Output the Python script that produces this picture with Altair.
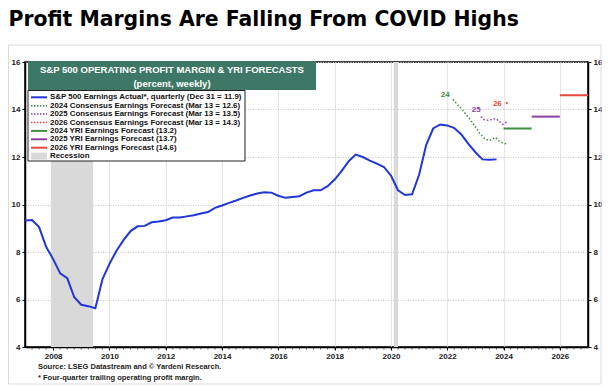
import altair as alt
import pandas as pd

# ---------------- data ----------------
act_years = [2007.00, 2007.25, 2007.50, 2007.75, 2008.00, 2008.25, 2008.50, 2008.75,
             2009.00, 2009.25, 2009.50, 2009.75, 2010.00, 2010.25, 2010.50, 2010.75,
             2011.00, 2011.25, 2011.50, 2011.75, 2012.00, 2012.25, 2012.50, 2012.75,
             2013.00, 2013.25, 2013.50, 2013.75, 2014.00, 2014.25, 2014.50, 2014.75,
             2015.00, 2015.25, 2015.50, 2015.75, 2016.00, 2016.25, 2016.50, 2016.75,
             2017.00, 2017.25, 2017.50, 2017.75, 2018.00, 2018.25, 2018.50, 2018.75,
             2019.00, 2019.25, 2019.50, 2019.75, 2020.00, 2020.25, 2020.50, 2020.75,
             2021.00, 2021.25, 2021.50, 2021.75, 2022.00, 2022.25, 2022.50, 2022.75,
             2023.00, 2023.25, 2023.50, 2023.75]
act_values = [9.33, 9.35, 9.05, 8.22, 7.70, 7.10, 6.90, 6.10,
              5.78, 5.72, 5.63, 6.85, 7.50, 8.05, 8.50, 8.88,
              9.08, 9.10, 9.25, 9.28, 9.34, 9.45, 9.45, 9.50,
              9.55, 9.62, 9.68, 9.86, 9.96, 10.07, 10.17, 10.28,
              10.38, 10.46, 10.52, 10.50, 10.37, 10.28, 10.32, 10.35,
              10.50, 10.60, 10.60, 10.77, 11.05, 11.42, 11.82, 12.10,
              12.00, 11.85, 11.72, 11.58, 11.22, 10.60, 10.40, 10.43,
              11.25, 12.50, 13.20, 13.37, 13.33, 13.22, 12.95, 12.55,
              12.20, 11.90, 11.88, 11.90]

c24_years = [2022.20, 2022.45, 2022.70, 2022.95, 2023.15, 2023.35, 2023.50, 2023.62,
             2023.72, 2023.85, 2024.00, 2024.12]
c24_values = [14.42, 14.10, 13.75, 13.35, 13.00, 12.75, 12.70, 12.76,
              12.82, 12.66, 12.58, 12.55]

c25_years = [2023.20, 2023.30, 2023.45, 2023.60, 2023.72, 2023.85, 2023.97, 2024.05, 2024.12]
c25_values = [13.70, 13.58, 13.55, 13.58, 13.62, 13.50, 13.38, 13.44, 13.48]

c26_years = [2024.11]
c26_values = [14.27]

yri_names = ["2024", "2025", "2026"]
yri_start = [2024.0, 2025.0, 2026.0]
yri_end = [2025.0, 2026.0, 2027.0]
yri_values = [13.2, 13.7, 14.6]

rec_start = [2007.92, 2020.10]
rec_end = [2009.42, 2020.25]

lab_text = ["24", "25", "26"]
lab_years = [2021.93, 2023.03, 2023.78]
lab_values = [14.63, 13.96, 14.25]

legend_labels = [
    "S&P 500 Earnings Actual*, quarterly (Dec 31 = 11.9)",
    "2024 Consensus Earnings Forecast (Mar 13 = 12.6)",
    "2025 Consensus Earnings Forecast (Mar 13 = 13.5)",
    "2026 Consensus Earnings Forecast (Mar 13 = 14.3)",
    "2024 YRI Earnings Forecast (13.2)",
    "2025 YRI Earnings Forecast (13.7)",
    "2026 YRI Earnings Forecast (14.6)",
    "Recession",
]
legend_kinds = ["solid", "dot", "dot", "dot", "solid", "solid", "solid", "box"]

x_ticks = list(range(2008, 2027, 2))
minor_ticks = [2007 + q / 4 for q in range(1, 80)]
y_ticks = [4, 6, 8, 10, 12, 14, 16]

title_text = "Profit Margins Are Falling From COVID Highs"
header_lines = ["S&P 500 OPERATING PROFIT MARGIN & YRI FORECASTS", "(percent, weekly)"]
source_lines = ["Source: LSEG Datastream and \u00a9 Yardeni Research.",
                "* Four-quarter trailing operating profit margin."]

# ---------------- style ----------------
BLUE = "#2236d6"
GREEN = "#3e8f3e"
PURPLE = "#8e3fa6"
RED = "#e8473b"
REC = "#d9d9d9"
HEAD = "#3d7866"
FONT = "Liberation Sans"
legend_colors = [BLUE, GREEN, PURPLE, RED, GREEN, PURPLE, RED, REC]
lab_colors = [GREEN, PURPLE, RED]

W, H = 563, 285
one = pd.DataFrame({"a": [0]})

xs = alt.Scale(domain=[2007, 2027], nice=False, zero=False)
ys = alt.Scale(domain=[4, 16], nice=False, zero=False)

x_axis = alt.Axis(values=x_ticks, format="d", title=None, labelFont=FONT, labelFontSize=8,
                  labelFontWeight="bold", labelColor="#222", tickColor="black", tickSize=3,
                  domainColor="black", domainWidth=1.5, grid=True, gridColor="#e4e4e4",
                  labelPadding=2)
yl_axis = alt.Axis(values=y_ticks, title=None, orient="left", labelFont=FONT, labelFontSize=8,
                   labelFontWeight="bold", labelColor="#222", tickColor="black", tickSize=3,
                   domainColor="black", domainWidth=1.5, grid=True, gridColor="#c8c8c8",
                   gridDash=[1, 1.5], labelPadding=2)
yr_axis = alt.Axis(values=y_ticks, title=None, orient="right", labelFont=FONT, labelFontSize=8,
                   labelFontWeight="bold", labelColor="#222", tickColor="black", tickSize=3,
                   domainColor="black", domainWidth=1.5, grid=False, labelPadding=2)

X = lambda f: alt.X(f, scale=xs, axis=x_axis)

# ---------------- layers ----------------
rec_df = pd.DataFrame({"s": rec_start, "e": rec_end})
recession = alt.Chart(rec_df).mark_rect(color=REC).encode(
    x=X("s:Q"), x2="e:Q", y=alt.value(0), y2=alt.value(H))

minor = alt.Chart(pd.DataFrame({"t": minor_ticks})).mark_rule(color="#333", strokeWidth=0.8).encode(
    x=X("t:Q"), y=alt.value(H + 0.5), y2=alt.value(H + 2.5))

act_df = pd.DataFrame({"year": act_years, "v": act_values})
actual = alt.Chart(act_df).mark_line(color=BLUE, strokeWidth=2).encode(
    x=X("year:Q"), y=alt.Y("v:Q", scale=ys, axis=yl_axis))

def dotted(years, vals, color):
    df = pd.DataFrame({"year": years, "v": vals})
    return alt.Chart(df).mark_line(color=color, strokeWidth=1.5, strokeDash=[1.5, 2]).encode(
        x=X("year:Q"), y=alt.Y("v:Q", scale=ys, axis=None))

c24 = dotted(c24_years, c24_values, GREEN)
c25 = dotted(c25_years, c25_values, PURPLE)
c26 = alt.Chart(pd.DataFrame({"year": c26_years, "v": c26_values})).mark_point(
    color=RED, filled=True, size=5, opacity=1).encode(
    x=X("year:Q"), y=alt.Y("v:Q", scale=ys, axis=None))

yri_df = pd.DataFrame({"n": yri_names, "s": yri_start, "e": yri_end, "v": yri_values})
yri = alt.Chart(yri_df).mark_rule(strokeWidth=2).encode(
    x=X("s:Q"), x2="e:Q",
    y=alt.Y("v:Q", scale=ys, axis=yr_axis),
    color=alt.Color("n:N", scale=alt.Scale(domain=yri_names, range=[GREEN, PURPLE, RED]), legend=None))

lab_df = pd.DataFrame({"t": lab_text, "year": lab_years, "v": lab_values})
labels = alt.Chart(lab_df).mark_text(font=FONT, fontSize=8, fontWeight="bold").encode(
    x=X("year:Q"), y=alt.Y("v:Q", scale=ys, axis=None),
    text="t:N",
    color=alt.Color("t:N", scale=alt.Scale(domain=lab_text, range=lab_colors), legend=None))

# header box
header_rect = alt.Chart(one).mark_rect(color=HEAD).encode(
    x=alt.value(3), x2=alt.value(291), y=alt.value(-1), y2=alt.value(28))
header_txt = [alt.Chart(one).mark_text(font=FONT, fontSize=9.5, fontWeight="bold", color="white",
                                       align="center", baseline="middle").encode(
    x=alt.value(147), y=alt.value(yy), text=alt.value(t))
    for t, yy in zip(header_lines, [8, 21.5])]

# legend box
leg_box = alt.Chart(one).mark_rect(fill="white", stroke="#222", strokeWidth=1).encode(
    x=alt.value(3), x2=alt.value(220), y=alt.value(28.5), y2=alt.value(99))
leg_layers = []
for i, (lab, kind, col) in enumerate(zip(legend_labels, legend_kinds, legend_colors)):
    yy = 35.3 + 8.4 * i
    if kind == "box":
        sym = alt.Chart(one).mark_rect(color=col).encode(
            x=alt.value(6), x2=alt.value(22), y=alt.value(yy - 3.5), y2=alt.value(yy + 3.5))
    elif kind == "dot":
        sym = alt.Chart(one).mark_rule(color=col, strokeWidth=1.5, strokeDash=[1.5, 1.5]).encode(
            x=alt.value(6), x2=alt.value(22), y=alt.value(yy))
    else:
        sym = alt.Chart(one).mark_rule(color=col, strokeWidth=2).encode(
            x=alt.value(6), x2=alt.value(22), y=alt.value(yy))
    txt = alt.Chart(one).mark_text(font=FONT, fontSize=7.9, fontWeight="bold", color="#111",
                                   align="left", baseline="middle").encode(
        x=alt.value(25), y=alt.value(yy), text=alt.value(lab))
    leg_layers += [sym, txt]

title = alt.Chart(one).mark_text(font="DejaVu Sans", fontSize=20.4, fontWeight="bold", color="black",
                                 align="left", baseline="alphabetic").encode(
    x=alt.value(-16.5), y=alt.value(-36), text=alt.value(title_text))

src = [alt.Chart(one).mark_text(font=FONT, fontSize=7.5, fontWeight="bold", color="#222",
                                align="left", baseline="middle").encode(
    x=alt.value(13), y=alt.value(yy), text=alt.value(t))
    for t, yy in zip(source_lines, [305, 315.5])]

frame = alt.Chart(one).mark_rect(fillOpacity=0, stroke="#dcdcdc", strokeWidth=1).encode(
    x=alt.value(-16.5), x2=alt.value(576), y=alt.value(-17), y2=alt.value(322))

chart = alt.layer(
    frame, recession, minor, actual, c24, c25, c26, yri, labels,
    header_rect, *header_txt, leg_box, *leg_layers, title, *src
).resolve_scale(y="independent").properties(
    width=W, height=H,
    autosize=alt.AutoSizeParams(type="none"),
    padding={"left": 17, "top": 54, "right": 14, "bottom": 39},
    background="white",
).configure_view(stroke="black", strokeWidth=1.5)

chart.save("out.html", embed_options={"renderer": "svg", "actions": False})
